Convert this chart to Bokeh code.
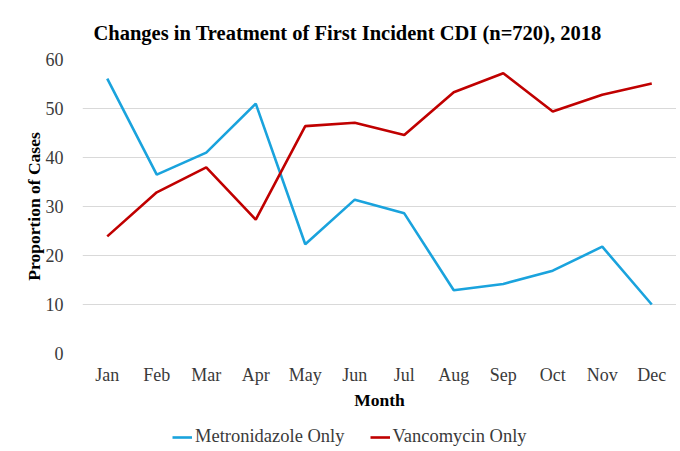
from bokeh.plotting import figure
from bokeh.layouts import column
from bokeh.models import Legend, LegendItem, Range1d, FactorRange, Title
from bokeh.embed import file_html
from bokeh.resources import INLINE

months = ["Jan", "Feb", "Mar", "Apr", "May", "Jun", "Jul", "Aug", "Sep", "Oct", "Nov", "Dec"]
metronidazole = [56.1, 36.5, 41.0, 51.0, 22.3, 31.4, 28.6, 12.9, 14.2, 16.9, 21.8, 10.0]
vancomycin = [23.9, 32.9, 38.0, 27.3, 46.4, 47.1, 44.6, 53.3, 57.2, 49.4, 52.8, 55.1]
y_ticks = [0, 10, 20, 30, 40, 50, 60]
series_names = ["Metronidazole Only", "Vancomycin Only"]
series_colors = ["#1AA3DD", "#C00000"]

FONT = "Liberation Serif"

p = figure(frame_width=594, frame_height=294, x_range=FactorRange(*months), y_range=Range1d(0, 60),
           output_backend="svg", toolbar_location=None,
           min_border_left=82, min_border_right=0, min_border_top=59, min_border_bottom=62)

p.title = Title(text="Changes in Treatment of First Incident CDI (n=720), 2018",
                text_font=FONT, text_font_size="20.5px", text_font_style="bold",
                text_color="#000000", align="left", offset=11, standoff=32)

p.outline_line_color = None
p.background_fill_color = "white"
p.border_fill_color = "white"

p.line(months, metronidazole, line_color=series_colors[0], line_width=2.6)
p.line(months, vancomycin, line_color=series_colors[1], line_width=2.6)

p.xgrid.grid_line_color = None
p.ygrid.grid_line_color = "#D9D9D9"
p.ygrid.grid_line_width = 1
p.yaxis.ticker = y_ticks

for ax in (p.xaxis[0], p.yaxis[0]):
    ax.axis_line_color = None
    ax.major_tick_line_color = None
    ax.minor_tick_line_color = None
    ax.major_label_text_font = FONT
    ax.major_label_text_font_size = "18px"
    ax.major_label_text_color = "#3A3A3A"
    ax.axis_label_text_font = FONT
    ax.axis_label_text_font_size = "17.5px"
    ax.axis_label_text_font_style = "bold"
    ax.axis_label_text_color = "#000000"

p.xaxis.axis_label = "Month"
p.yaxis.axis_label = "Proportion of Cases"
p.xaxis.major_label_standoff = 5
p.xaxis.axis_label_standoff = 2
p.yaxis.major_label_standoff = 13
p.yaxis.axis_label_standoff = -1

# legend strip below the chart (series drawn off-range so only legend glyphs show)
lg = figure(width=676, height=36, x_range=Range1d(0, 1), y_range=Range1d(0, 1),
            output_backend="svg", toolbar_location=None,
            min_border_left=0, min_border_right=0, min_border_top=0, min_border_bottom=0)
lg.axis.visible = False
lg.grid.visible = False
lg.outline_line_color = None
lg.border_fill_color = "white"
items = []
for name, col, vals in zip(series_names, series_colors, [metronidazole, vancomycin]):
    r = lg.line(list(range(len(vals))), vals, line_color=col, line_width=2.6)
    items.append(LegendItem(label=name, renderers=[r]))
legend = Legend(items=items, orientation="horizontal", location=(90, 4),
                label_text_font=FONT, label_text_font_size="18.5px", label_text_color="#3A3A3A",
                glyph_width=20, label_standoff=3, spacing=25,
                border_line_color=None, background_fill_alpha=0, margin=0, padding=0)
lg.add_layout(legend)

layout = column(p, lg, spacing=0)
open("out.html", "w").write(file_html(layout, INLINE))
